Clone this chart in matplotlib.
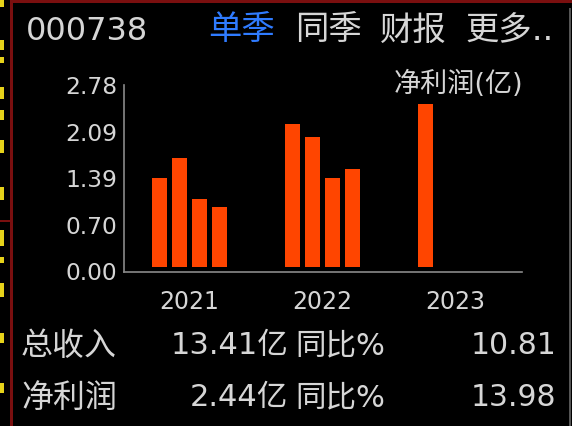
import numpy as np
import matplotlib
matplotlib.use("Agg")
import matplotlib.pyplot as plt
from matplotlib.patches import Rectangle

# quarterly net profit (亿)
years = ["2021", "2022", "2023"]
profit_2021 = [1.33, 1.63, 1.02, 0.90]
profit_2022 = [2.14, 1.94, 1.34, 1.47]
profit_2023 = [2.44]
yticks = [0.0, 0.695, 1.39, 2.085, 2.78]
ytick_labels = ["0.00", "0.70", "1.39", "2.09", "2.78"]

row_names = ["总收入", "净利润"]
row_values = ["13.41亿", "2.44亿"]
row_yoy = ["10.81", "13.98"]

W, H = 572, 426
BG = "black"
TXT = "#d6d6d6"
BAR = "#ff4500"
BLUE = "#2f7bff"
DARKRED = "#7a0f0f"
FAM = ["DejaVu Sans", "Noto Sans CJK SC"]


def px(x, y):
    return x / W, 1 - y / H


fig = plt.figure(figsize=(W / 100, H / 100), dpi=100, facecolor=BG)

# frame decorations
fig.add_artist(Rectangle((11 / W, 1 - 3 / H), 1, 3 / H, transform=fig.transFigure,
                         color=DARKRED, lw=0))
fig.add_artist(Rectangle((10 / W, 0), 2.5 / W, 1, transform=fig.transFigure,
                         color=DARKRED, lw=0))
fig.add_artist(Rectangle((0, 1 - 222 / H), 12 / W, 2 / H, transform=fig.transFigure,
                         color=DARKRED, lw=0))
fig.add_artist(Rectangle((569 / W, 0), 2 / W, 1 - 8 / H, transform=fig.transFigure,
                         color="#555555", lw=0))
for y0, h in [(0, 7), (40, 10), (57, 6), (87, 12), (110, 10), (140, 13), (187, 13),
              (230, 16), (257, 6), (283, 14), (333, 10), (383, 10)]:
    fig.add_artist(Rectangle((0, 1 - (y0 + h) / H), 4 / W, h / H, transform=fig.transFigure,
                             color="#e6d21a", lw=0))

# bar chart
ax = fig.add_axes([124 / W, 1 - 271.5 / H, (522 - 124) / W, (271.5 - 85) / H])
ax.set_facecolor(BG)
group_gap = 6.65
all_years = [profit_2021, profit_2022, profit_2023]
for i, vals in enumerate(all_years):
    x = i * group_gap + np.arange(len(vals))
    ax.bar(x, vals, width=0.75, bottom=0.06, color=BAR, linewidth=0)

ax.set_xlim(-1.76, 18.14)
ax.set_ylim(0, 2.78)
ax.set_yticks(yticks)
ax.set_yticklabels(ytick_labels, family="DejaVu Sans", fontsize=16.8, color=TXT)
ax.set_xticks([i * group_gap + 1.5 for i in range(len(years))])
ax.set_xticklabels(years, family="DejaVu Sans", fontsize=17, color=TXT)
ax.tick_params(axis="both", length=0)
ax.tick_params(axis="y", pad=5)
ax.tick_params(axis="x", pad=13)
for s in ["top", "right"]:
    ax.spines[s].set_visible(False)
for s in ["left", "bottom"]:
    ax.spines[s].set_color("#8a8a8a")
    ax.spines[s].set_linewidth(1.2)

# header
fig.text(*px(26, 31), "000738", family=FAM, fontsize=23, color=TXT, ha="left", va="center")
fig.text(*px(208, 30), "单季", family=FAM, fontsize=24, color=BLUE, ha="left", va="center")
fig.text(*px(295, 30), "同季", family=FAM, fontsize=24, color=TXT, ha="left", va="center")
fig.text(*px(380, 30), "财报", family=FAM, fontsize=24, color=TXT, ha="left", va="center")
fig.text(*px(465, 30), "更多..", family=FAM, fontsize=24, color=TXT, ha="left", va="center")
fig.text(*px(523, 84), "净利润(亿)", family=FAM, fontsize=19.5, color=TXT, ha="right", va="center")

# summary rows
for i in range(len(row_names)):
    yc = 346 + i * 52
    fig.text(*px(21, yc), row_names[i], family=FAM, fontsize=23, color=TXT, ha="left", va="center")
    fig.text(*px(288, yc), row_values[i], family=FAM, fontsize=22, color=TXT, ha="right", va="center")
    fig.text(*px(295, yc), "同比%", family=FAM, fontsize=22, color=TXT, ha="left", va="center")
    fig.text(*px(556, yc), row_yoy[i], family=FAM, fontsize=21.5, color=TXT, ha="right", va="center")

fig.savefig("out.png", dpi=100, facecolor=BG)
